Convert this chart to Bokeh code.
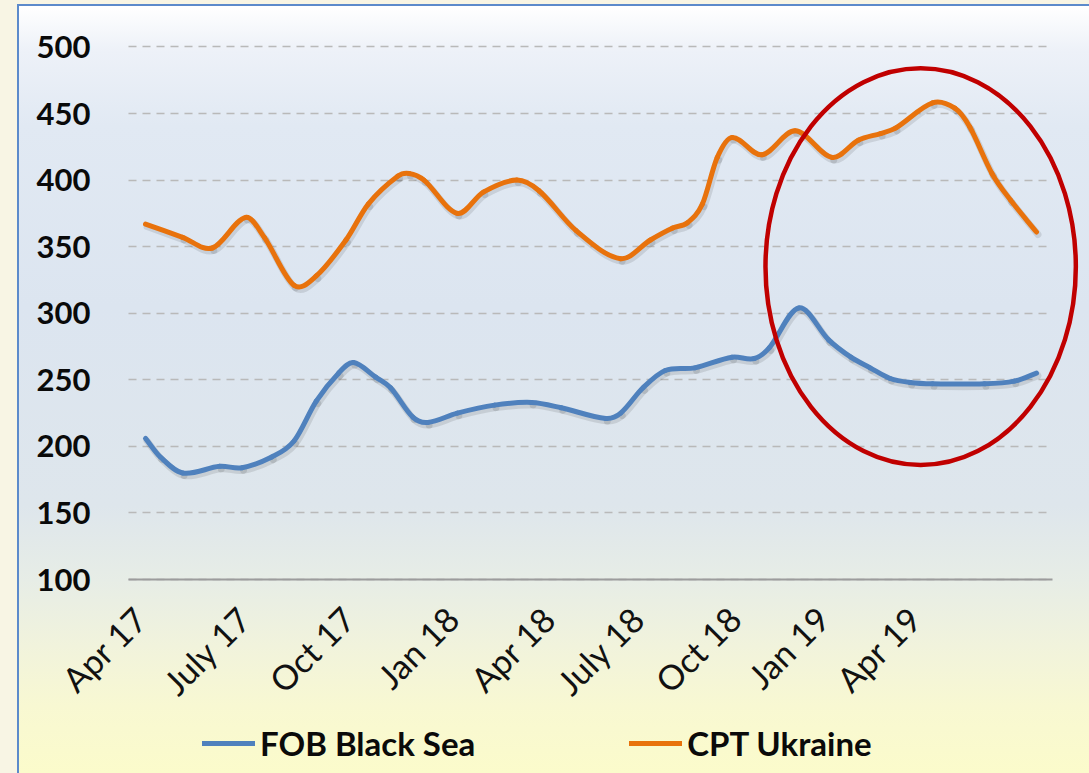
import math
import numpy as np
from bokeh.plotting import figure
from bokeh.models import FixedTicker, Legend, LegendItem
from bokeh.embed import file_html
from bokeh.resources import INLINE

# ---- data (x in weeks since Apr 2017) ----
tick_weeks = [-0.7, 13.3, 27.3, 41.3, 54.3, 66.3, 79.3, 91.2, 103.6]
tick_labels = ["Apr 17", "July 17", "Oct 17", "Jan 18", "Apr 18",
               "July 18", "Oct 18", "Jan 19", "Apr 19"]
y_ticks = [100, 150, 200, 250, 300, 350, 400, 450, 500]

fob_weeks = [0, 2, 5, 10, 13, 17, 20, 23, 26, 28, 31, 33, 36, 38, 42, 47, 52, 56,
             62, 64, 67, 70, 74, 79, 82, 84, 88, 92, 95, 97.6, 100.3, 103, 106, 113,
             117, 120]
fob_black_sea = [206, 192, 180, 185, 184, 192, 204, 234, 255, 263, 252, 244, 222, 218,
                 225, 231, 233, 229, 221, 225, 244, 257, 259, 267, 266, 274, 304, 280,
                 267, 259, 251, 248, 247, 247, 249, 255]

cpt_weeks = [0, 5, 9, 13.5, 16, 20, 23, 27, 30, 34, 35.5, 37.5, 42, 45.5, 50, 53, 58,
             64, 68, 71, 73, 75, 77, 79, 83, 87.5, 92.5, 96, 99, 101, 106, 109, 111,
             114, 116.5, 120]
cpt_ukraine = [367, 357, 349, 372, 357, 321, 328, 355, 382, 403, 405, 400, 375, 391,
               400, 392, 362, 341, 355, 364, 368, 382, 417, 432, 419, 437, 417, 430,
               435, 439, 458, 454, 440, 405, 385, 361]

highlight_x = [104.4]
highlight_y = [335]
highlight_w = [41.8]
highlight_h = [298]

# plotted span and full view span (view includes the label / legend margins)
X_START, X_END = -2.29, 122.15
X_VIEW = (-19.53, 127.14)
Y_MIN, Y_MAX = 100, 500
Y_VIEW = (-45.7, 534.9)

BLUE = "#4F81BD"
ORANGE = "#E8720C"
RED = "#C00000"


def smooth(xs, ys, dx=0.0, dy=0.0):
    xs = np.asarray(xs, float) + dx
    ys = np.asarray(ys, float) + dy
    n = len(xs)
    m = np.empty(n)
    m[1:-1] = (ys[2:] - ys[:-2]) / (xs[2:] - xs[:-2])
    m[0] = (ys[1] - ys[0]) / (xs[1] - xs[0])
    m[-1] = (ys[-1] - ys[-2]) / (xs[-1] - xs[-2])
    h = xs[1:] - xs[:-1]
    return dict(x0=xs[:-1], y0=ys[:-1], x1=xs[1:], y1=ys[1:],
                cx0=xs[:-1] + h / 3, cy0=ys[:-1] + m[:-1] * h / 3,
                cx1=xs[1:] - h / 3, cy1=ys[1:] - m[1:] * h / 3)


p = figure(width=1089, height=773, x_range=X_VIEW, y_range=Y_VIEW,
           output_backend="svg", toolbar_location=None,
           min_border_left=0, min_border_right=0, min_border_top=0,
           min_border_bottom=0)
p.title.visible = False
p.background_fill_color = None
p.border_fill_color = None
p.outline_line_color = None

p.styles = {
    "background":
        "linear-gradient(#5C8ACB,#5C8ACB) 17px 4px / 100% 2px no-repeat, "
        "linear-gradient(#5C8ACB,#5C8ACB) 17px 4px / 2px 100% no-repeat, "
        "linear-gradient(to bottom, #FFFFFF 0px, #EDF1F8 45px, #E1E9F3 120px, "
        "#DCE5F0 300px, #DEE6EC 500px, #E7EDE6 575px, #F1F3DC 640px, "
        "#F8F8D2 700px, #FBFBCB 767px) 19px 6px / 100% 100% no-repeat, #F8F5E4",
}

# axes (drawn inside the full-size frame)
p.xaxis.fixed_location = Y_MIN
p.xaxis.ticker = FixedTicker(ticks=tick_weeks)
p.xaxis.bounds = (X_START, X_END)
p.xaxis.major_label_overrides = {w: l for w, l in zip(tick_weeks, tick_labels)}
p.xaxis.major_label_orientation = math.pi / 4
p.xaxis.major_label_text_font = "Lato"
p.xaxis.major_label_text_font_size = "34px"
p.xaxis.major_label_text_color = "#111111"
p.xaxis.major_label_standoff = 27
p.xaxis.axis_line_color = "#9C9C9C"
p.xaxis.axis_line_width = 2
p.xaxis.major_tick_line_color = None
p.xaxis.minor_tick_line_color = None

p.yaxis.fixed_location = X_START
p.yaxis.ticker = FixedTicker(ticks=y_ticks)
p.yaxis.major_label_text_font = "Lato"
p.yaxis.major_label_text_font_size = "31px"
p.yaxis.major_label_text_font_style = "bold"
p.yaxis.major_label_text_color = "#0A0A0A"
p.yaxis.major_label_standoff = 32
p.yaxis.axis_line_color = None
p.yaxis.major_tick_line_color = None
p.yaxis.minor_tick_line_color = None

p.xgrid.grid_line_color = None
p.ygrid.grid_line_color = "#B9B9B9"
p.ygrid.grid_line_width = 1.5
p.ygrid.grid_line_dash = "8 6"
p.ygrid.cross_bounds = (X_START, X_END)

# soft drop shadows (offset a couple of pixels down-right)
for xs, ys in ((fob_weeks, fob_black_sea), (cpt_weeks, cpt_ukraine)):
    p.bezier(**smooth(xs, ys, dx=0.2, dy=-1.9), line_color="#000000",
             line_alpha=0.10, line_width=7, line_cap="round")

rb = p.bezier(**smooth(fob_weeks, fob_black_sea), line_color=BLUE, line_width=5,
              line_cap="round")
ro = p.bezier(**smooth(cpt_weeks, cpt_ukraine), line_color=ORANGE, line_width=5,
              line_cap="round")

p.ellipse(x=highlight_x, y=highlight_y, width=highlight_w, height=highlight_h,
          fill_color=None, line_color=RED, line_width=4.5)

legend = Legend(items=[LegendItem(label="FOB Black Sea", renderers=[rb]),
                       LegendItem(label="CPT Ukraine", renderers=[ro])],
                orientation="horizontal", location=(202, 10),
                glyph_width=53, glyph_height=36, label_height=36,
                label_standoff=5, spacing=154, padding=0, margin=0,
                border_line_color=None, background_fill_alpha=0,
                label_text_font="Lato", label_text_font_size="33px",
                label_text_font_style="bold", label_text_color="#0A0A0A")
p.add_layout(legend, "center")

open("out.html", "w").write(file_html(p, INLINE))
